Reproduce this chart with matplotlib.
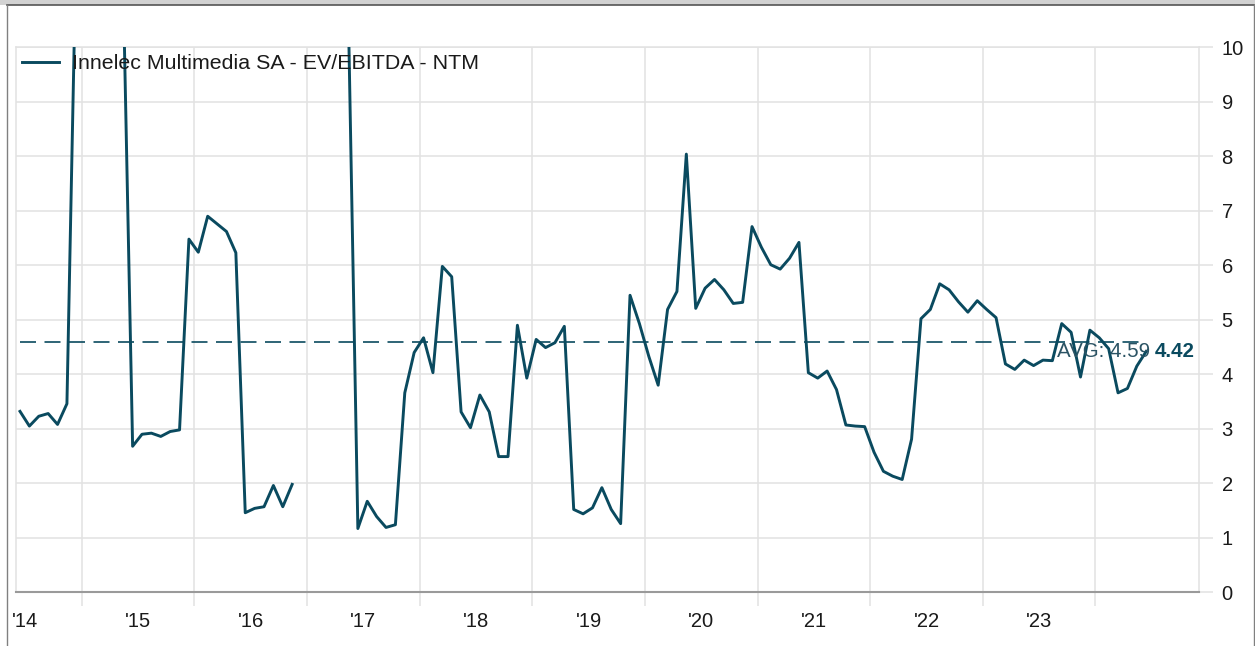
import numpy as np
import matplotlib
matplotlib.use("Agg")
import matplotlib.pyplot as plt
from matplotlib.lines import Line2D
from matplotlib.patches import Rectangle

plt.rcParams['font.family'] = ['Liberation Sans', 'DejaVu Sans']

# ---------------- data ----------------
series_name = "Innelec Multimedia SA - EV/EBITDA - NTM"
year_labels = ["'14", "'15", "'16", "'17", "'18", "'19", "'20", "'21", "'22", "'23"]

# monthly EV/EBITDA (NTM); NaN = no data
ev_ebitda = [
    3.32, 3.05, 3.23, 3.28, 3.08, 3.46, 12.0, 14.0, 15.0, 14.0, 13.0, 11.1,
    2.68, 2.90, 2.92, 2.86, 2.95, 2.98, 6.48, 6.24, 6.90, 6.76, 6.62, 6.23,
    1.46, 1.54, 1.57, 1.96, 1.57, 1.98, np.nan, np.nan, np.nan, np.nan, np.nan, 10.5,
    1.17, 1.67, 1.39, 1.19, 1.24, 3.66, 4.40, 4.67, 4.03, 5.98, 5.79, 3.31,
    3.02, 3.62, 3.31, 2.49, 2.49, 4.90, 3.93, 4.64, 4.49, 4.58, 4.88, 1.52,
    1.44, 1.55, 1.92, 1.52, 1.26, 5.45, 4.93, 4.33, 3.80, 5.19, 5.52, 8.04,
    5.21, 5.58, 5.74, 5.55, 5.30, 5.32, 6.71, 6.33, 6.01, 5.93, 6.13, 6.42,
    4.03, 3.93, 4.06, 3.72, 3.07, 3.05, 3.04, 2.57, 2.22, 2.13, 2.07, 2.81,
    5.02, 5.19, 5.66, 5.55, 5.33, 5.14, 5.35, 5.19, 5.04, 4.19, 4.09, 4.26,
    4.16, 4.26, 4.25, 4.93, 4.77, 3.95, 4.81, 4.67, 4.47, 3.66, 3.74, 4.15,
    4.42,
]
avg_value = 4.59
last_value = 4.42

# ---------------- figure ----------------
W, H = 1255, 646
fig = plt.figure(figsize=(W / 100, H / 100), dpi=100)
fig.patch.set_facecolor('white')

left_px, right_px, top_px, bottom_px = 16, 1199.3, 47.3, 592.3
ax = fig.add_axes([left_px / W, (H - bottom_px) / H,
                   (right_px - left_px) / W, (bottom_px - top_px) / H])

LINE = '#0a4a5f'
GRID = '#e2e2e2'

months = np.arange(len(ev_ebitda))
values = np.array(ev_ebitda, dtype=float)

ax.plot(months, values, color=LINE, lw=2.1, zorder=3)
ax.plot([months[0], months[-1]], [avg_value, avg_value], color=LINE, lw=1.2,
        dashes=(9.6, 5.1), zorder=2)

# x scale: month index; px = 20 + 9.385 * i
step = 9.385
ax.set_xlim((left_px - 20) / step, (right_px - 20) / step)
ax.set_ylim(0, 10)

label_pos = [0.586 + 12 * k for k in range(len(year_labels))]
grid_pos = [6.586 + 12 * k for k in range(len(year_labels))]
ax.set_xticks(label_pos)
ax.set_xticklabels(year_labels)
ax.set_xticks(grid_pos, minor=True)
ax.tick_params(axis='x', which='major', length=0, pad=14.5, labelsize=14.5,
               labelcolor='#1a1a1a')
ax.tick_params(axis='x', which='minor', length=10, width=1.1, color=GRID)

ax.yaxis.tick_right()
ax.set_yticks(range(0, 11))
ax.tick_params(axis='y', which='major', length=10, width=1.1, color=GRID,
               pad=6, labelsize=14.5, labelcolor='#1a1a1a')

ax.grid(True, axis='x', which='minor', color=GRID, lw=1.1)
ax.grid(True, axis='y', which='major', color=GRID, lw=1.1)
ax.set_axisbelow(True)

for side in ['left', 'right', 'top']:
    ax.spines[side].set_color(GRID)
    ax.spines[side].set_linewidth(1.1)
ax.spines['bottom'].set_color('#9a9a9a')
ax.spines['bottom'].set_linewidth(1.5)

# annotations
ax.text(120.4, last_value, f"AVG: {avg_value:.2f}", ha='right', va='center',
        fontsize=14.8, color='#2b5364', zorder=4)
ax.text(120.9, last_value, f"{last_value:.2f}", ha='left', va='center',
        fontsize=14.8, color=LINE, fontweight='bold', zorder=4)

# legend
ax.legend([Line2D([0], [0], color=LINE, lw=2.1)], [series_name],
          loc='upper left', bbox_to_anchor=(22 / W, 1 - 54 / H),
          bbox_transform=fig.transFigure, frameon=False, fontsize=15.4,
          handlelength=1.75, handletextpad=0.6, borderpad=0, borderaxespad=0,
          labelcolor='#1a1a1a')

# outer frame of the screenshot
fig.patches.append(Rectangle((0, 1 - 5 / H), 1, 5 / H, transform=fig.transFigure,
                             facecolor='#d2d2d2', edgecolor='none', zorder=-1))
fig.add_artist(Line2D([7 / W, 1254 / W], [1 - 5 / H, 1 - 5 / H],
                      transform=fig.transFigure, color='#555555', lw=1.2))
fig.add_artist(Line2D([7 / W, 7 / W], [0, 1 - 5 / H],
                      transform=fig.transFigure, color='#808080', lw=1.0))
fig.add_artist(Line2D([1254 / W, 1254 / W], [0, 1 - 5 / H],
                      transform=fig.transFigure, color='#808080', lw=1.0))

fig.savefig('out.png', dpi=100)
